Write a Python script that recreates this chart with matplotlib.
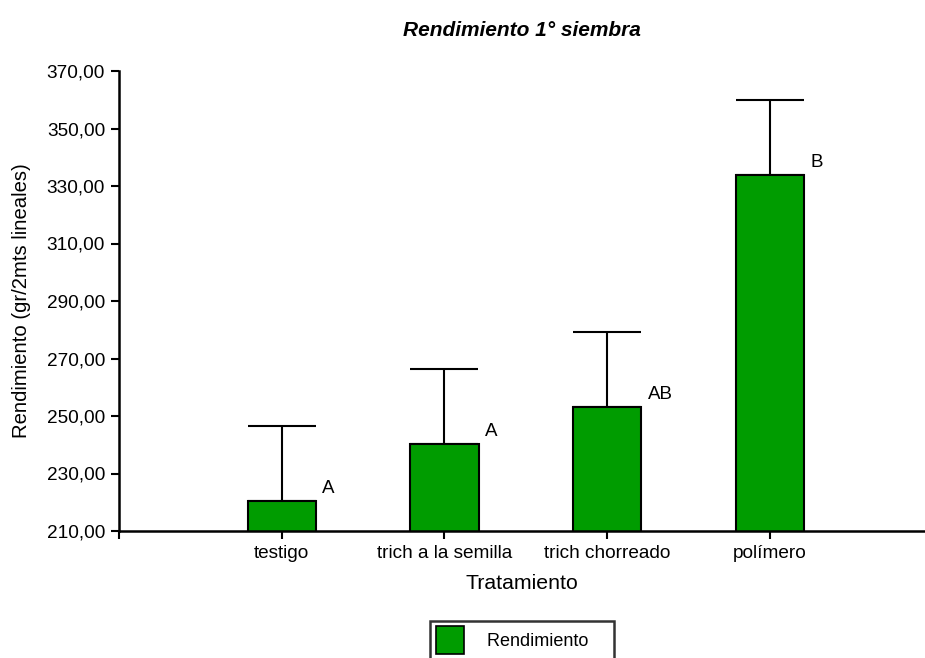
import matplotlib
matplotlib.use("Agg")
import matplotlib.pyplot as plt
from matplotlib.patches import Patch

plt.rcParams['font.family'] = ['Liberation Sans', 'DejaVu Sans']

# Data
categories = ["testigo", "trich a la semilla", "trich chorreado", "polímero"]
rendimiento = [220.4, 240.3, 253.3, 333.9]
error_sup = [26.0, 26.0, 26.0, 26.0]
letras = ["A", "A", "AB", "B"]
yticks = [210, 230, 250, 270, 290, 310, 330, 350, 370]

W, H = 925, 658
fig = plt.figure(figsize=(W / 100, H / 100), dpi=100)
ax = fig.add_axes([119 / W, (H - 531) / H, (W - 119) / W, (531 - 71) / H])

green = "#009c00"
x = [i + 1 for i in range(len(categories))]
bw = 0.42
ax.bar(x, rendimiento, width=bw, bottom=0, color=green, edgecolor="black",
       linewidth=1.5, zorder=2)
# upper error bars only; the lower end sits under the bar's top edge
ax.errorbar(x, rendimiento, yerr=[[0] * len(x), error_sup], fmt="none",
            ecolor="black", elinewidth=1.5, capsize=24.7, capthick=1.5, zorder=1)

for xi, v, lab in zip(x, rendimiento, letras):
    ax.annotate(lab, xy=(xi + bw / 2, v), xytext=(4.5, 9),
                textcoords="offset points", ha="left", va="center",
                fontsize=13.5, color="black")

ax.set_ylim(210, 370)
ax.set_xlim(0, 4.954)
ax.set_yticks(yticks)
ax.set_yticklabels([f"{t:.2f}".replace(".", ",") for t in yticks], fontsize=13.7)
ax.set_xticks([0] + x)
ax.set_xticklabels([""] + categories, fontsize=13.7)
ax.tick_params(axis="both", direction="out", length=6, width=1.5, color="black", pad=4)

for s in ["top", "right"]:
    ax.spines[s].set_visible(False)
for s in ["left", "bottom"]:
    ax.spines[s].set_linewidth(1.8)

ax.set_xlabel("Tratamiento", fontsize=15.3, labelpad=9)
ax.set_ylabel("Rendimiento (gr/2mts lineales)", fontsize=14.6, labelpad=11)
ax.set_title("Rendimiento 1° siembra", fontsize=15, fontweight="bold",
             fontstyle="italic", pad=25)

handle = Patch(facecolor=green, edgecolor="black", linewidth=1.2, label="Rendimiento    ")
leg = fig.legend(handles=[handle], loc="upper center",
                 bbox_to_anchor=(522 / W, 1 - 621 / H), fontsize=13,
                 frameon=True, fancybox=False, edgecolor="black",
                 handlelength=1.55, handleheight=2.0, handletextpad=1.3,
                 borderpad=0.3, borderaxespad=0)
leg.get_frame().set_linewidth(1.8)

fig.savefig("out.png", dpi=100)
